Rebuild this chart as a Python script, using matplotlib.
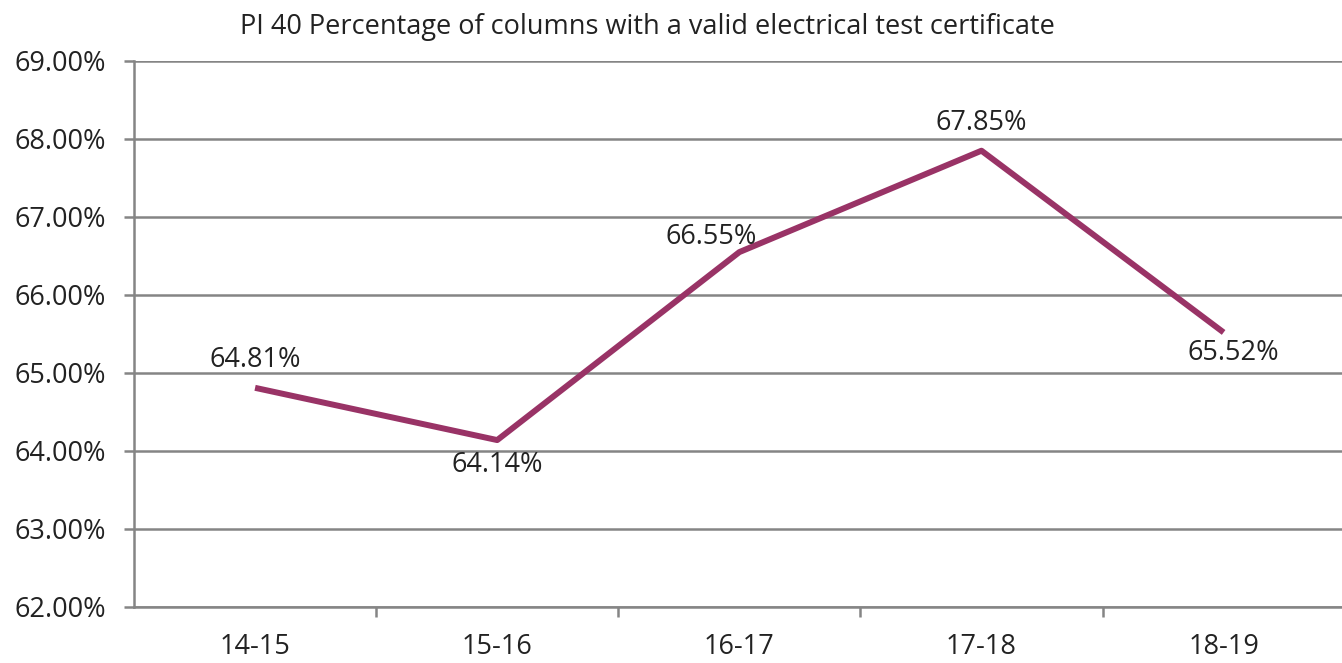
import matplotlib
matplotlib.use("Agg")
import matplotlib.pyplot as plt
from matplotlib.ticker import FuncFormatter, FixedLocator, NullFormatter

categories = ["14-15", "15-16", "16-17", "17-18", "18-19"]
values = [64.81, 64.14, 66.55, 67.85, 65.52]
title = "PI 40 Percentage of columns with a valid electrical test certificate"

plt.rcParams['font.family'] = ['Open Sans', 'DejaVu Sans']
FS = 19.5

fig = plt.figure(figsize=(13.42, 6.63), dpi=100)
ax = fig.add_axes([134/1342, 1-607/663, 1-134/1342 + 0.002, (607-61)/663])

x = list(range(len(categories)))
ax.plot(x, values, color="#993366", linewidth=4.3, solid_capstyle="butt", zorder=3)

ax.set_xlim(-0.5, len(categories) - 0.5)
ax.set_ylim(62, 69)
ax.set_yticks([62, 63, 64, 65, 66, 67, 68, 69])
ax.yaxis.set_major_formatter(FuncFormatter(lambda v, p: f"{v:.2f}%"))
ax.grid(axis="y", color="#858585", linewidth=1.8)
ax.set_axisbelow(True)

ax.set_xticks(x)
ax.set_xticklabels(categories)
ax.xaxis.set_minor_locator(FixedLocator([i + 0.5 for i in range(len(categories) - 1)]))
ax.xaxis.set_minor_formatter(NullFormatter())
ax.tick_params(axis="x", which="major", length=0, pad=19, labelsize=FS, colors="#222222")
ax.tick_params(axis="x", which="minor", length=7, width=1.8, color="#858585", direction="out")
ax.tick_params(axis="y", length=7, width=1.8, color="#858585", pad=13, labelsize=FS, labelcolor="#222222")

for s in ["top", "right"]:
    ax.spines[s].set_visible(False)
for s in ["left", "bottom"]:
    ax.spines[s].set_color("#858585")
    ax.spines[s].set_linewidth(1.8)

offsets = [(0, 10, "center", "bottom"), (0, -8, "center", "top"),
           (-20, 1, "center", "bottom"), (0, 10, "center", "bottom"),
           (7, -5, "center", "top")]
for xi, v, (dx, dy, ha, va) in zip(x, values, offsets):
    ax.annotate(f"{v:.2f}%", (xi, v), xytext=(dx, dy), textcoords="offset points",
                ha=ha, va=va, fontsize=FS, color="#222222")

fig.text(647/1342, 1-27/663, title, ha="center", va="center", fontsize=FS, color="#222222")

fig.savefig("out.png", dpi=100)
